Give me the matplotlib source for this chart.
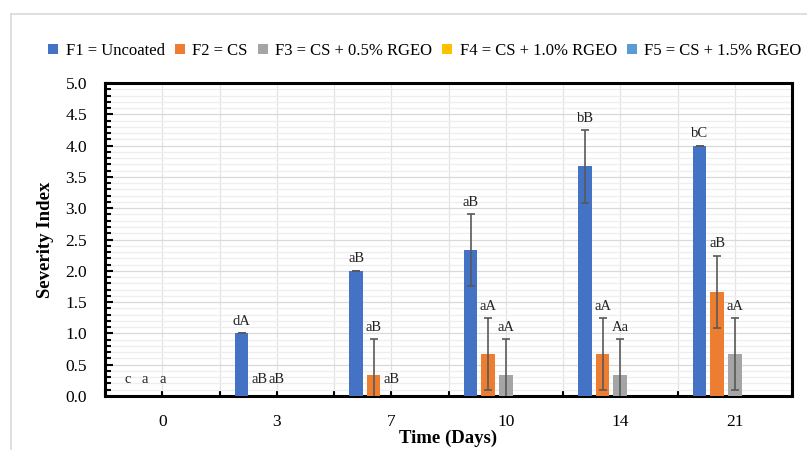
import numpy as np
import matplotlib.pyplot as plt
from matplotlib.lines import Line2D
from matplotlib.ticker import MultipleLocator

# dane z wykresu
days = ["0", "3", "7", "10", "14", "21"]
series_names = ["F1 = Uncoated", "F2 = CS", "F3 = CS + 0.5% RGEO",
                "F4 = CS + 1.0% RGEO", "F5 = CS + 1.5% RGEO"]
colors = ["#4472C4", "#ED7D31", "#A5A5A5", "#FFC000", "#5B9BD5"]

f1 = [0.0, 1.0, 2.0, 2.333, 3.667, 4.0]
f2 = [0.0, 0.0, 0.333, 0.667, 0.667, 1.667]
f3 = [0.0, 0.0, 0.0, 0.333, 0.333, 0.667]
f4 = [0.0, 0.0, 0.0, 0.0, 0.0, 0.0]
f5 = [0.0, 0.0, 0.0, 0.0, 0.0, 0.0]

f1_err = [0.0, 0.0, 0.0, 0.577, 0.577, 0.0]
f2_err = [0.0, 0.0, 0.577, 0.577, 0.577, 0.577]
f3_err = [0.0, 0.0, 0.0, 0.577, 0.577, 0.577]

f1_lbl = ["c", "dA", "aB", "aB", "bB", "bC"]
f2_lbl = ["a", "aB", "aB", "aA", "aA", "aB"]
f3_lbl = ["a", "aB", "aB", "aA", "Aa", "aA"]

values = [f1, f2, f3, f4, f5]
errors = [f1_err, f2_err, f3_err, None, None]
labels = [f1_lbl, f2_lbl, f3_lbl, None, None]

plt.rcParams['font.family'] = ['Liberation Serif', 'DejaVu Serif']

fig = plt.figure(figsize=(8.07, 4.5), dpi=100)
ax = fig.add_axes([105 / 807, 1 - 396 / 450, 687 / 807, 313 / 450])

x = np.arange(len(days))
step = 0.153
width = 0.118

for i, (vals, col, name) in enumerate(zip(values, colors, series_names)):
    pos = x + (i - 2) * step
    ax.bar(pos, vals, width, color=col, label=name, zorder=3)
    if errors[i] is not None:
        v = np.array(vals)
        mask = v > 0
        ax.errorbar(pos[mask], v[mask], yerr=np.array(errors[i])[mask],
                    fmt='none', ecolor='#595959', elinewidth=1.2, capsize=3,
                    capthick=1.2, zorder=4)
    if labels[i] is not None:
        for j, txt in enumerate(labels[i]):
            top = vals[j] + errors[i][j]
            off = 12 if top == 0 else 8.5
            ax.annotate(txt, (pos[j], top), xytext=(0, off), textcoords='offset points',
                        ha='center', va='center', fontsize=10.5, color='#222222', zorder=5)

ax.set_xlim(-0.5, len(days) - 0.5)
ax.set_ylim(0, 5.0)
ax.yaxis.set_major_locator(MultipleLocator(0.5))
ax.yaxis.set_minor_locator(MultipleLocator(0.1))
ax.set_yticklabels([f"{v:.1f}" for v in ax.get_yticks()])
ax.set_xticks(x)
ax.set_xticklabels(days)
ax.set_xticks(np.arange(-0.5, len(days), 1.0), minor=True)

ax.grid(which='major', axis='y', color='#D9D9D9', lw=0.9, zorder=0)
ax.grid(which='minor', axis='y', color='#EEEEEE', lw=0.9, zorder=0)
ax.grid(which='both', axis='x', color='#E3E3E3', lw=0.9, zorder=0)

ax.tick_params(axis='both', which='both', direction='in', colors='black',
               labelsize=12.5, width=1.5)
ax.tick_params(axis='y', which='major', length=6, pad=13)
ax.tick_params(axis='y', which='minor', length=4)
ax.tick_params(axis='x', which='both', length=4, pad=13)
for s in ax.spines.values():
    s.set_linewidth(2.2)
    s.set_color('black')

ax.set_xlabel("Time (Days)", fontsize=13.5, fontweight='bold', labelpad=0)
ax.set_ylabel("Severity Index", fontsize=13.5, fontweight='bold', labelpad=8)

fig.legend(loc='center', bbox_to_anchor=(425 / 807, 1 - 51 / 450), ncol=5,
           frameon=False, fontsize=12, handlelength=0.6, handleheight=0.6,
           handletextpad=0.45, columnspacing=0.6, borderaxespad=0)

# ramka obszaru wykresu (jasnoszara)
fig.add_artist(Line2D([11 / 807, 11 / 807], [0, 1 - 14 / 450], color='#D9D9D9', lw=1.2))
fig.add_artist(Line2D([11 / 807, 1], [1 - 14 / 450, 1 - 14 / 450], color='#D9D9D9', lw=1.2))

fig.savefig("out.png", dpi=100)
